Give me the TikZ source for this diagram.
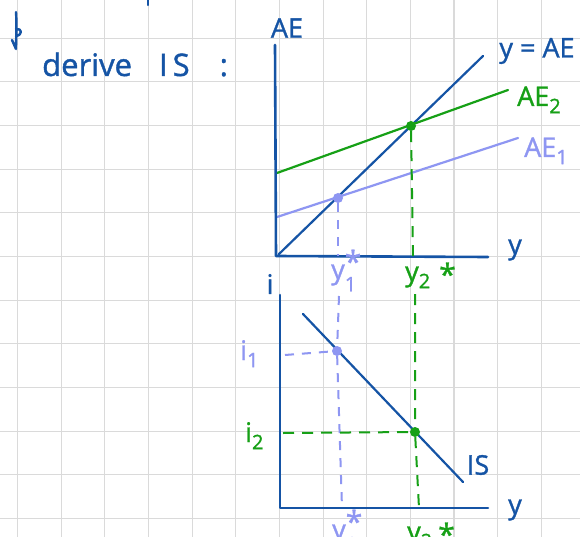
\documentclass[tikz,border=0pt]{standalone}
\usepackage{fontspec}
\setmainfont{Open Sans}[FakeBold=1.2]
\definecolor{ink}{HTML}{1554A5}
\definecolor{grn}{HTML}{16A016}
\definecolor{lav}{HTML}{8E96F2}
\definecolor{gridc}{HTML}{DADADA}
\newcommand{\lowidx}[1]{\raisebox{-0.5ex}{\fontsize{20}{20}\selectfont #1}}
\newcommand{\astr}{{\fontsize{30}{30}\selectfont *}}
\newcommand{\starsub}[1]{\makebox[0pt][l]{\raisebox{0.45ex}{\astr}}\raisebox{-0.85ex}{\fontsize{20}{20}\selectfont #1}}
\begin{document}
\begin{tikzpicture}[x=1pt,y=-1pt,
  lbl/.style={inner sep=0pt, font=\fontsize{27}{30}\selectfont},
  axis/.style={ink, line width=2.6pt, line cap=round, line join=round},
  curve/.style={line width=2.2pt, line cap=round},
  dot/.style={circle, fill, inner sep=0pt, minimum size=10pt},
  gdash/.style={grn, line width=2pt, dash pattern=on 11pt off 8pt},
  ldash/.style={lav, line width=2pt, dash pattern=on 9pt off 8pt}]
\useasboundingbox (0,0) rectangle (580,537);
\fill[white] (0,0) rectangle (580,537);
\foreach \k in {0,...,12} \draw[gridc, line width=1.1pt] ({17.5+43.65*\k},0) -- ({17.5+43.65*\k},537);
\foreach \k in {0,...,11} \draw[gridc, line width=1.1pt] (0,{38.2+43.65*\k}) -- (580,{38.2+43.65*\k});

% heading
\draw[ink, line width=2.4pt, line cap=round, line join=round]
  (16,12) .. controls (17,26) and (16,40) .. (16,49)
  (16,29) .. controls (22,28) and (23,35) .. (16,36)
  (12,40) -- (16,49);
\draw[ink, line width=2.4pt, line cap=round] (148,0) -- (148,5);
\node[lbl, ink, anchor=base west, font=\fontsize{31}{32}\selectfont] (title) at (42,76) {derive\hspace{27pt}I\hspace{5pt}S\hspace{30pt}:};

% top graph
\coordinate (t1) at (275,45);
\coordinate (o1) at (276,256);
\coordinate (r1) at (488,257);
\coordinate (d0) at (279,254);
\coordinate (d1) at (483,56);
\coordinate (a2s) at (277,173);
\coordinate (a2e) at (508,90);
\coordinate (a1s) at (277,217);
\coordinate (a1e) at (518,138);
\draw[ink, curve] (d0) -- (d1);
\draw[grn, curve] (a2s) -- (a2e);
\draw[lav, curve] (a1s) -- (a1e);
\draw[axis] (t1) -- (o1) -- (r1);
\node[dot, grn] (e2) at (411,126) {};
\node[dot, lav] (e1) at (338,198) {};

\node[lbl, ink] (lAE) at (287,28) {AE};
\node[lbl, ink] (l45) at (537,51) {y = AE};
\node[lbl, grn, anchor=base west] (lAE2) at (517,106) {AE\lowidx{2}};
\node[lbl, lav, anchor=base west] (lAE1) at (524,157) {AE\lowidx{1}};
\node[lbl, ink] (ly1) at (515,250) {y};

% lower graph
\coordinate (t2) at (280,295);
\coordinate (o2) at (280,508);
\coordinate (r2) at (488,508);
\coordinate (is0) at (303,314);
\coordinate (is1) at (463,482);
\draw[ink, curve] (is0) -- (is1);
\draw[axis] (t2) -- (o2) -- (r2);
\node[dot, lav] (f1) at (337,351) {};
\node[dot, grn] (f2) at (415,432) {};

\coordinate (g1) at (413,256);
\coordinate (g2) at (415,294);
\coordinate (g3) at (419,508);
\coordinate (v1) at (338,256);
\coordinate (v2) at (339,296);
\coordinate (v3) at (342,508);
\coordinate (h1) at (285,355);
\coordinate (h2) at (283,433);
\draw[gdash] (e2) -- (g1);
\draw[gdash] (g2) -- (f2) -- (g3);
\draw[ldash] (e1) -- (v1);
\draw[ldash] (v2) -- (f1) -- (v3);
\draw[ldash] (h1) -- (f1);
\draw[gdash] (h2) -- (f2);

% labels
\node[lbl, lav, anchor=base west] (ly1s) at (331,279) {y\starsub{1}};
\node[lbl, grn, anchor=base west] (ly2s) at (405,281) {y\lowidx{2}\hspace{9pt}\raisebox{-0.3ex}{\astr}};
\node[lbl, ink] (li) at (270,284) {i};
\node[lbl, lav, anchor=base west] (li1) at (240,360) {i\lowidx{1}};
\node[lbl, grn, anchor=base west] (li2) at (245,442) {i\lowidx{2}};
\node[lbl, ink] (lIS) at (478,465) {IS};
\node[lbl, ink] (ly2) at (515,510) {y};
\node[lbl, lav, anchor=base west] (lb1) at (332,539) {y\starsub{1}};
\node[lbl, grn, anchor=base west] (lb2) at (407,541) {y\lowidx{2}\hspace{6pt}\raisebox{-0.3ex}{\astr}};
\end{tikzpicture}
\end{document}
